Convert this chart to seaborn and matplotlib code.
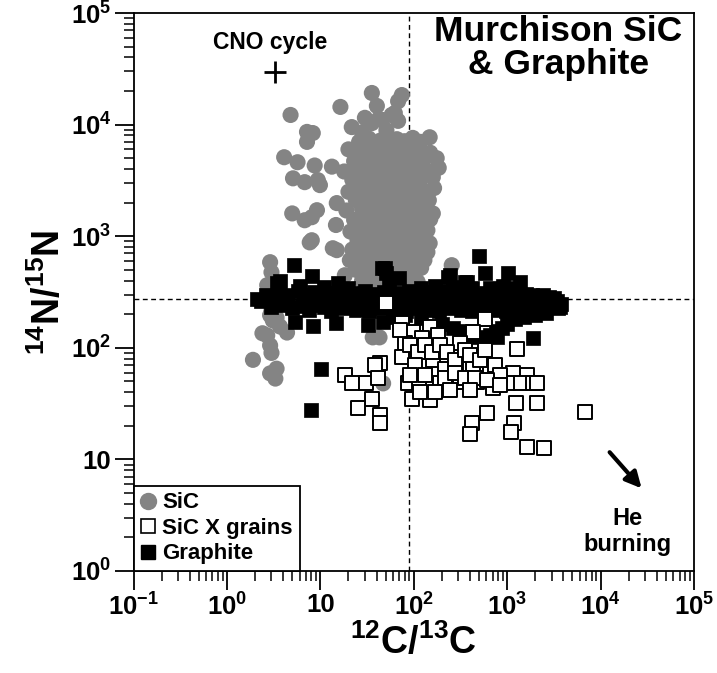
import numpy as np
import pandas as pd
import matplotlib
matplotlib.use('Agg')
import matplotlib.pyplot as plt
import seaborn as sns
from matplotlib.lines import Line2D
from matplotlib.ticker import FixedLocator, FixedFormatter, LogLocator, NullFormatter

# ---------------- data ----------------
sic_points = [
    # scattered low 12C/13C grains
    (4.8, 12200), (16.4, 14400), (7.2, 8600), (8.3, 8400), (7.2, 7000), (4.1, 5100),
    (5.7, 4600), (8.7, 4300), (13.3, 4200), (5.1, 3300), (6.8, 3050), (9.4, 3180),
    (9.9, 2870), (5.0, 1600), (6.8, 1390), (9.2, 1710), (8.1, 1480), (14.7, 1260),
    (8.1, 920), (13.6, 780), (7.7, 880), (2.9, 585), (3.0, 475), (2.7, 364),
    (3.0, 217), (3.1, 176), (2.9, 196), (3.4, 186), (3.7, 155), (2.4, 135),
    (2.7, 129), (2.9, 105), (3.0, 90), (1.9, 78), (2.9, 59), (3.4, 65), (3.3, 53),
    (4.4, 137), (18.3, 447), (26.5, 750), (20.7, 610), (36.4, 124), (43, 124), (47, 48),
    (255, 550),
    # top of main group
    (35.6, 19200), (74.5, 18400), (68, 16200), (40.3, 14700), (62.7, 12700),
    (35.6, 10300), (21.7, 9500), (46, 11000), (58, 12200), (51, 8900), (28, 8500),
    (148, 7700), (97.5, 7600), (30, 11500), (42, 11200), (68, 10800),
    # dense body
    (26, 7000), (33, 7500), (44, 7200), (55, 6900), (66, 7400), (80, 7100), (118, 7000),
    (20, 6000), (27, 5700), (36, 6100), (47, 5800), (58, 6200), (72, 5600), (90, 6000),
    (112, 5900), (150, 5600),
    (23, 4700), (31, 5000), (39, 4600), (50, 4900), (62, 4700), (78, 5000), (96, 4600),
    (125, 4800), (176, 5000),
    (18, 3800), (25, 4000), (33, 3700), (43, 3900), (54, 4100), (67, 3800), (84, 4000),
    (104, 3700), (138, 3900), (185, 4100),
    (22, 3200), (29, 3000), (37, 3300), (47, 3100), (59, 3300), (74, 3000), (92, 3200),
    (115, 3100), (160, 3380),
    (20, 2500), (27, 2700), (34, 2500), (42, 2650), (52, 2550), (66, 2700), (82, 2500),
    (100, 2650), (130, 2550), (165, 2700),
    (15, 1980), (24, 2100), (30, 2000), (38, 2150), (48, 2050), (58, 2200), (72, 2000),
    (90, 2150), (112, 2050), (145, 2100),
    (19, 1700), (28, 1750), (35, 1650), (44, 1800), (54, 1700), (67, 1650), (84, 1750),
    (105, 1650), (135, 1750), (160, 1600),
    (23, 1400), (31, 1350), (40, 1450), (50, 1380), (62, 1420), (78, 1350), (96, 1450),
    (120, 1380), (150, 1420),
    (21, 1100), (29, 1150), (36, 1080), (46, 1160), (57, 1120), (70, 1090), (88, 1150),
    (110, 1100), (140, 1130),
    (25, 920), (33, 950), (42, 890), (52, 940), (64, 900), (80, 960), (100, 900),
    (125, 930), (148, 865),
    (15, 750), (22, 760), (30, 730), (38, 770), (48, 740), (60, 760), (74, 720),
    (92, 770), (115, 740), (140, 720),
    (26, 600), (35, 630), (44, 590), (55, 620), (68, 600), (85, 630), (105, 590), (130, 610),
    (24, 500), (32, 480), (40, 520), (50, 490), (62, 510), (78, 480), (98, 500), (120, 520),
    (28, 400), (37, 420), (46, 390), (58, 410), (72, 400), (90, 420), (110, 390),
    (30, 330), (42, 340), (55, 320), (70, 335), (88, 325),
]

graphite_points = [
    # outliers
    (2.1, 272), (3.0, 280), (3.7, 400), (3.4, 380), (5.2, 550), (8.2, 440), (15.4, 380),
    (5.3, 170), (8.3, 156), (14.6, 166), (32.4, 159), (46.5, 170), (45.7, 517), (51, 466),
    (49, 520), (70, 420), (10.1, 65), (7.9, 27.5), (500, 660), (574, 466), (1010, 466),
    (1380, 386), (231, 429), (350, 386), (243, 446), (369, 386), (1880, 122), (773, 124),
    (3470, 226), (3640, 231), (3400, 265), (1350, 284),
    # band, upper layer
    (2.6, 300), (3.6, 310), (4.5, 295), (5.8, 320), (7.0, 300), (8.5, 315), (10, 290),
    (12, 310), (14, 300), (16.5, 325), (19, 295), (22, 310), (26, 300), (30, 320),
    (35, 290), (41, 305), (48, 315), (56, 295), (65, 310), (76, 300), (88, 320),
    (100, 295), (115, 305), (130, 315), (150, 290), (175, 305), (200, 320), (230, 300),
    (265, 310), (300, 290), (345, 305), (400, 315), (460, 300), (530, 290), (600, 310),
    (690, 300), (800, 320), (920, 295), (1050, 305), (1200, 300), (1400, 290),
    (1600, 305), (1850, 300), (2100, 290), (2400, 300), (2800, 285), (3200, 280),
    # middle layer
    (2.3, 260), (4.2, 265), (6.6, 255), (9.6, 262), (13.5, 258), (20, 265), (29, 255),
    (43, 262), (62, 258), (90, 265), (135, 255), (195, 262), (290, 258), (420, 265),
    (610, 255), (880, 262), (1270, 258), (1850, 262), (2700, 250), (3800, 245),
    # band, lower layer
    (3.0, 230), (4.0, 240), (5.0, 225), (6.3, 235), (7.6, 220), (9.2, 240), (11, 230),
    (13, 215), (15, 235), (18, 225), (21, 240), (24, 220), (28, 230), (33, 215),
    (38, 235), (44, 225), (52, 240), (60, 220), (70, 230), (82, 215), (95, 235),
    (108, 225), (125, 240), (142, 220), (162, 230), (185, 215), (212, 235), (245, 225),
    (280, 240), (320, 220), (370, 230), (425, 215), (490, 235), (560, 225), (640, 240),
    (740, 220), (850, 230), (980, 215), (1120, 235), (1300, 225), (1500, 240),
    (1700, 220), (1950, 230), (2250, 225), (2600, 235), (3000, 230),
    # lower edge
    (60, 190), (80, 195), (120, 185), (200, 165), (260, 150), (320, 140), (400, 130),
    (480, 125), (560, 115), (660, 130), (760, 140), (880, 150), (1000, 165),
    (1200, 180), (1500, 190), (2000, 195), (2600, 205),
    # upper edge
    (6, 360), (11, 350), (20, 345), (55, 355), (120, 345), (170, 360), (260, 350),
    (420, 340), (650, 345), (900, 355), (1150, 340),
]

xgrain_points = [
    (51, 251), (574, 180), (428, 138), (74.5, 166), (148, 153), (97.5, 138), (181, 130),
    (80, 110), (122, 122), (310, 110), (1265, 97), (74.5, 82), (43, 73), (38.5, 70),
    (160, 77), (214, 65), (283, 65), (428, 70), (650, 60), (1150, 59), (1650, 57),
    (18.3, 57), (21.7, 48), (31.2, 48), (41.5, 54), (86, 48), (115, 44), (190, 48),
    (310, 49), (470, 49), (700, 44), (1010, 48), (1400, 48), (1880, 48), (2070, 48),
    (35.6, 35), (25, 29), (43, 25), (43, 21), (95, 35), (148, 34), (610, 26), (417, 21),
    (397, 17), (1180, 21), (1100, 17.5), (1630, 12.8), (2460, 12.6), (2070, 32),
    (1250, 32), (6750, 26.4),
    (70.8, 144), (90.6, 105), (110, 92), (131, 105), (155, 92), (190, 105), (225, 92),
    (275, 77), (351, 95), (397, 86), (508, 77), (574, 95), (735, 70), (831, 57),
    (102, 70), (131, 57), (215, 54), (275, 60), (351, 54), (449, 54), (610, 51),
    (831, 46), (90.6, 57), (116, 40), (168, 40), (243, 42), (397, 42),
]

x_ticks = [0.1, 1, 10, 100, 1000, 10000, 100000]
x_ticklabels = ['10$^{-1}$', '10$^{0}$', '10', '10$^{2}$', '10$^{3}$', '10$^{4}$', '10$^{5}$']
y_ticks = [1, 10, 100, 1000, 10000, 100000]
y_ticklabels = ['10$^{0}$', '10', '10$^{2}$', '10$^{3}$', '10$^{4}$', '10$^{5}$']

solar_c = 89
solar_n = 272

sic = pd.DataFrame(sic_points, columns=['c', 'n'])
gra = pd.DataFrame(graphite_points, columns=['c', 'n'])
xgr = pd.DataFrame(xgrain_points, columns=['c', 'n'])

# ---------------- style ----------------
sns.set_theme(style='ticks')
plt.rcParams['font.family'] = ['Liberation Sans', 'DejaVu Sans']
plt.rcParams['font.weight'] = 'bold'
plt.rcParams['axes.labelweight'] = 'bold'
plt.rcParams['text.color'] = 'black'
plt.rcParams['axes.labelcolor'] = 'black'
plt.rcParams['xtick.color'] = 'black'
plt.rcParams['ytick.color'] = 'black'
plt.rcParams['axes.edgecolor'] = 'black'
plt.rcParams['mathtext.fontset'] = 'custom'
plt.rcParams['mathtext.rm'] = 'Liberation Sans:bold'
plt.rcParams['mathtext.bf'] = 'Liberation Sans:bold'
plt.rcParams['mathtext.it'] = 'Liberation Sans:bold'
plt.rcParams['mathtext.default'] = 'bf'

GREY = '#848484'

fig = plt.figure(figsize=(7.17, 6.73), dpi=100)
ax = fig.add_axes([133.5 / 717, 1 - 571 / 673, (694 - 133.5) / 717, (571 - 13) / 673])
ax.set_xscale('log')
ax.set_yscale('log')

ax.axvline(solar_c, color='black', lw=1.0, ls=(0, (3.5, 2.5)), zorder=1)
ax.axhline(solar_n, color='black', lw=1.0, ls=(0, (3.5, 2.5)), zorder=1)

sns.scatterplot(data=sic, x='c', y='n', marker='o', s=135, color=GREY,
                edgecolor='none', linewidth=0, ax=ax, zorder=2, legend=False)
sns.scatterplot(data=gra, x='c', y='n', marker='s', s=112, color='black',
                edgecolor='black', linewidth=0.5, ax=ax, zorder=3, legend=False)
sns.scatterplot(data=xgr, x='c', y='n', marker='s', s=95, facecolor='white',
                edgecolor='black', linewidth=1.4, ax=ax, zorder=4, legend=False)

ax.set_xlim(0.1, 1e5)
ax.set_ylim(1, 1e5)

ax.xaxis.set_major_locator(FixedLocator(x_ticks))
ax.xaxis.set_major_formatter(FixedFormatter(x_ticklabels))
ax.yaxis.set_major_locator(FixedLocator(y_ticks))
ax.yaxis.set_major_formatter(FixedFormatter(y_ticklabels))
ax.xaxis.set_minor_locator(LogLocator(base=10, subs=np.arange(2, 10), numticks=30))
ax.yaxis.set_minor_locator(LogLocator(base=10, subs=np.arange(2, 10), numticks=30))
ax.xaxis.set_minor_formatter(NullFormatter())
ax.yaxis.set_minor_formatter(NullFormatter())

ax.tick_params(which='major', direction='out', length=14, width=1.3, labelsize=18.5,
               top=False, right=False, pad=2, color='black', labelcolor='black')
ax.tick_params(which='minor', direction='out', length=7, width=1.1,
               top=False, right=False, color='black')
for sp in ax.spines.values():
    sp.set_linewidth(1.3)
    sp.set_color('black')

ax.set_xlabel('$^{12}$C/$^{13}$C', fontsize=27, labelpad=2, color='black')
ax.set_ylabel('$^{14}$N/$^{15}$N', fontsize=27, labelpad=2, color='black')

ax.text(0.758, 0.997, 'Murchison SiC\n& Graphite', transform=ax.transAxes,
        ha='center', va='top', fontsize=25.5, fontweight='bold', linespacing=1.0,
        color='black')
ax.text(2.9, 5.4e4, 'CNO cycle', ha='center', va='center', fontsize=16.5,
        fontweight='bold', color='black')
ax.plot([3.3], [2.96e4], marker='+', color='black', ms=16, mew=2.0, ls='none')
ax.text(19500, 2.26, 'He\nburning', ha='center', va='center', fontsize=17,
        fontweight='bold', linespacing=1.15, color='black')
ax.annotate('', xy=(27500, 5.5), xytext=(12500, 11.6),
            arrowprops=dict(arrowstyle='-|>', lw=3.0, color='black', mutation_scale=24,
                            shrinkA=0, shrinkB=0))

handles = [
    Line2D([], [], marker='o', ls='none', color=GREY, markersize=11.5, label='SiC'),
    Line2D([], [], marker='s', ls='none', markerfacecolor='white', markeredgecolor='black',
           markersize=10, markeredgewidth=1.2, label='SiC X grains'),
    Line2D([], [], marker='s', ls='none', color='black', markersize=10, label='Graphite'),
]
leg = ax.legend(handles=handles, loc='lower left', bbox_to_anchor=(0, 0), borderaxespad=0,
                frameon=True, fancybox=False, edgecolor='black', framealpha=1,
                handlelength=0.7, handletextpad=0.3, borderpad=0.3,
                labelspacing=0.2, prop={'weight': 'bold', 'size': 16})
for t in leg.get_texts():
    t.set_color('black')
leg.get_frame().set_linewidth(1.3)
leg.set_zorder(10)

fig.savefig('out.png', dpi=100)
